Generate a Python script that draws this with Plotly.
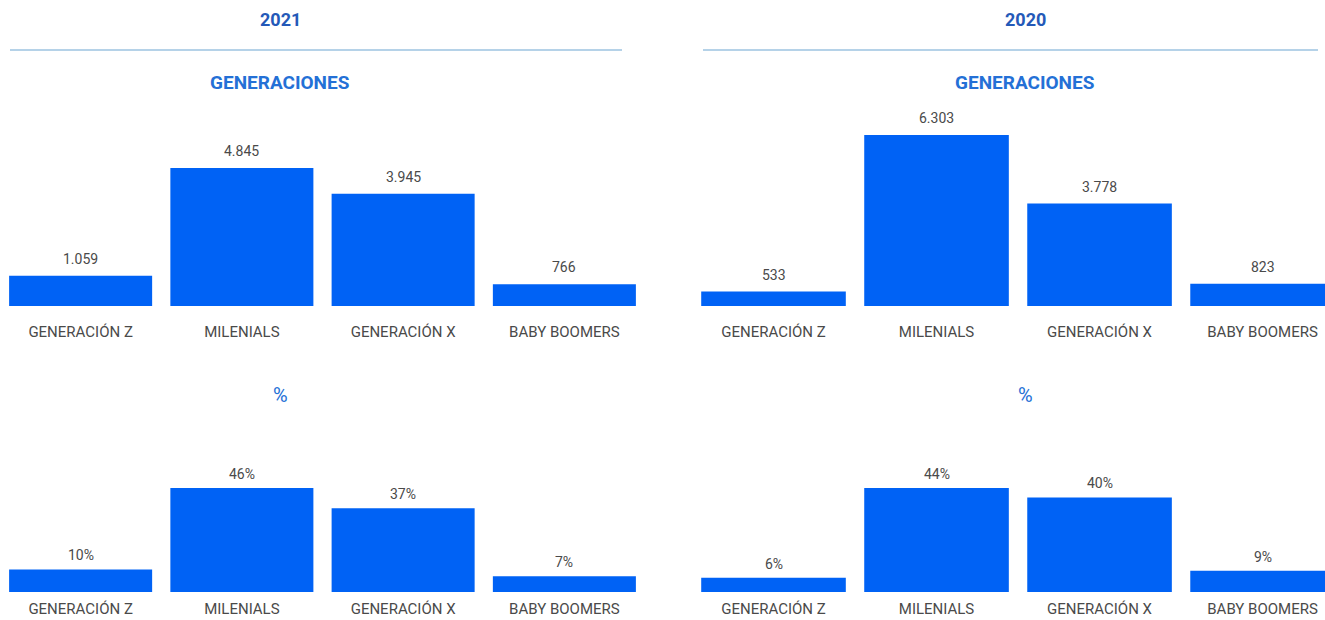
import plotly.graph_objects as go

categories = ["GENERACIÓN Z", "MILENIALS", "GENERACIÓN X", "BABY BOOMERS"]
years = ["2021", "2020"]
counts_2021 = [1059, 4845, 3945, 766]
counts_2020 = [533, 6303, 3778, 823]
pct_2021 = [10, 46, 37, 7]
pct_2020 = [6, 44, 40, 9]

BAR = "#0062F5"
TITLE = "#2459b8"
SUB = "#2470d6"
GRAY = "#4a4a4a"
FONT = "Roboto"

W, H = 1325, 620


def px_x(p):
    return p / W


def px_y(p):
    return 1 - p / H


fig = go.Figure()

panels = [
    # (values, xaxis, yaxis, is_pct, xdomain, xrange, ydomain, ymax)
    (counts_2021, "x", "y", False, [0, px_x(645)], [-0.5, 3.5], [px_y(306), px_y(130)], 6179),
    (counts_2020, "x2", "y2", False, [px_x(692), 1], [-0.5, 3.383], [px_y(306), px_y(130)], 6487),
    (pct_2021, "x3", "y3", True, [0, px_x(645)], [-0.5, 3.5], [px_y(592), px_y(460)], 58.4),
    (pct_2020, "x4", "y4", True, [px_x(692), 1], [-0.5, 3.383], [px_y(592), px_y(460)], 55.8),
]

annotations = []
for vals, xa, ya, is_pct, xdom, xr, ydom, ymax in panels:
    fig.add_trace(go.Bar(
        x=categories, y=vals, xaxis=xa, yaxis=ya,
        marker=dict(color=BAR, line=dict(width=0)),
        hoverinfo="x+y", showlegend=False,
    ))
    for c, v in zip(categories, vals):
        txt = f"{v}%" if is_pct else f"{v:,}".replace(",", ".")
        annotations.append(dict(
            x=c, y=v, xref=xa, yref=ya, text=txt, showarrow=False,
            xanchor="center", yanchor="bottom", yshift=4 if is_pct else 7,
            font=dict(family=FONT, size=14, color=GRAY),
        ))
    xkey = "xaxis" if xa == "x" else "xaxis" + xa[1:]
    ykey = "yaxis" if ya == "y" else "yaxis" + ya[1:]
    fig.update_layout(**{
        xkey: dict(domain=xdom, range=xr, anchor=ya, showgrid=False, zeroline=False,
                   showline=False, ticks="", tickfont=dict(family=FONT, size=15, color=GRAY),
                   ticklabelstandoff=6 if is_pct else 15, fixedrange=True),
        ykey: dict(domain=ydom, range=[0, ymax], anchor=xa, visible=False, fixedrange=True),
    })

# headings
for year, cx, x0, x1 in [(years[0], 280, 10, 622), (years[1], 1025, 703, 1318)]:
    annotations.append(dict(x=px_x(cx), y=px_y(20), xref="paper", yref="paper", text=f"<b>{year}</b>",
                            xanchor="center", yanchor="middle",
                            showarrow=False, font=dict(family=FONT, size=18, color=TITLE)))
    annotations.append(dict(x=px_x(cx), y=px_y(82), xref="paper", yref="paper", text="<b>GENERACIONES</b>",
                            xanchor="center", yanchor="middle",
                            showarrow=False, font=dict(family=FONT, size=19, color=SUB)))
    annotations.append(dict(x=px_x(cx), y=px_y(395), xref="paper", yref="paper", text="%",
                            xanchor="center", yanchor="middle",
                            showarrow=False, font=dict(family=FONT, size=20, color=SUB)))
    fig.add_shape(type="line", xref="paper", yref="paper", x0=px_x(x0), x1=px_x(x1),
                  y0=px_y(50), y1=px_y(50), line=dict(color="#9cc3e0", width=1.5))

fig.update_layout(
    width=W, height=H,
    margin=dict(l=0, r=0, t=0, b=0),
    paper_bgcolor="white", plot_bgcolor="white",
    bargap=0.113,
    separators=",.",
    annotations=annotations,
    font=dict(family=FONT),
)

fig.write_html("out.html", config={"displayModeBar": False})
